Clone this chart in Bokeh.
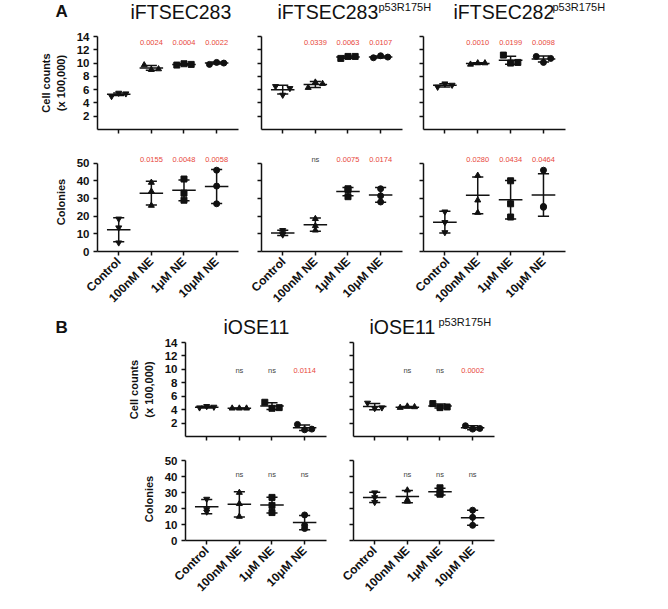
import numpy as np
from bokeh.plotting import figure
from bokeh.layouts import column, row
from bokeh.models import FixedTicker, Range1d, ColumnDataSource
from bokeh.embed import file_html
from bokeh.resources import INLINE
from bokeh.core.properties import value

# ---------------- data ----------------
conditions = ["Control", "100nM NE", "1\u03bcM NE", "10\u03bcM NE"]
cell_ticks = [2, 4, 6, 8, 10, 12, 14]
colony_ticks = [0, 10, 20, 30, 40, 50]

# A - iFTSEC283
a1_cell_pts = [[5.0, 5.5, 5.4], [9.7, 9.0, 9.1], [9.7, 9.9, 9.8], [9.8, 10.1, 10.0]]
a1_cell_mean = [5.3, 9.27, 9.8, 10.0]
a1_cell_sd = [0.2, 0.35, 0.1, 0.15]
a1_cell_p = ["", "0.0024", "0.0004", "0.0022"]
a1_col_pts = [[18.5, 13.5, 5.0], [39.0, 34.0, 26.0], [41.0, 33.0, 29.0], [46.0, 37.0, 27.0]]
a1_col_mean = [12.3, 33.0, 34.6, 36.8]
a1_col_sd = [6.8, 6.7, 5.9, 9.6]
a1_col_p = ["", "0.0155", "0.0048", "0.0058"]

# A - iFTSEC283 p53R175H
a2_cell_pts = [[6.5, 5.2, 6.2], [6.3, 7.1, 6.9], [10.7, 11.0, 11.0], [10.8, 11.1, 10.9]]
a2_cell_mean = [6.0, 6.77, 10.9, 10.93]
a2_cell_sd = [0.66, 0.45, 0.17, 0.15]
a2_cell_p = ["", "0.0339", "0.0063", "0.0107"]
a2_col_pts = [[9.5, 12.0, 10.2], [18.5, 14.5, 12.0], [35.5, 35.0, 31.0], [35.5, 31.5, 28.0]]
a2_col_mean = [10.5, 15.2, 33.9, 32.0]
a2_col_sd = [1.5, 3.8, 2.3, 4.2]
a2_col_p = ["", "ns", "0.0075", "0.0174"]

# A - iFTSEC282 p53R175H
a3_cell_pts = [[6.4, 6.9, 6.7], [9.8, 10.0, 10.0], [11.2, 10.0, 10.1], [11.0, 10.1, 10.7]]
a3_cell_mean = [6.65, 9.93, 10.43, 10.6]
a3_cell_sd = [0.25, 0.1, 0.6, 0.45]
a3_cell_p = ["", "0.0010", "0.0199", "0.0098"]
a3_col_pts = [[22.5, 16.5, 10.8], [43.0, 29.0, 22.0], [40.0, 27.0, 19.5], [46.0, 25.5, 25.0]]
a3_col_mean = [16.6, 31.8, 29.3, 32.0]
a3_col_sd = [6.2, 10.4, 10.9, 12.0]
a3_col_p = ["", "0.0280", "0.0434", "0.0464"]

# B - iOSE11
b1_cell_pts = [[4.3, 4.5, 4.4], [4.2, 4.2, 4.2], [5.1, 4.2, 4.3], [1.8, 1.0, 1.1]]
b1_cell_mean = [4.37, 4.2, 4.53, 1.3]
b1_cell_sd = [0.12, 0.05, 0.5, 0.4]
b1_cell_p = ["", "ns", "ns", "0.0114"]
b1_col_pts = [[26.0, 19.5, 18.0], [30.0, 23.0, 15.0], [27.0, 22.0, 17.5], [16.0, 9.5, 7.5]]
b1_col_mean = [21.2, 22.7, 22.2, 11.2]
b1_col_sd = [4.5, 7.9, 4.9, 4.5]
b1_col_p = ["", "ns", "ns", "ns"]

# B - iOSE11 p53R175H
b2_cell_pts = [[5.0, 4.2, 4.3], [4.3, 4.5, 4.4], [4.9, 4.3, 4.4], [1.6, 1.1, 1.2]]
b2_cell_mean = [4.45, 4.35, 4.55, 1.3]
b2_cell_sd = [0.45, 0.1, 0.3, 0.3]
b2_cell_p = ["", "ns", "ns", "0.0002"]
b2_col_pts = [[30.0, 27.0, 24.0], [31.5, 25.5, 24.5], [33.0, 29.0, 29.5], [19.0, 14.5, 9.5]]
b2_col_mean = [27.0, 27.5, 30.6, 14.3]
b2_col_sd = [3.2, 3.9, 2.1, 4.7]
b2_col_p = ["", "ns", "ns", "ns"]

# panel titles
a_titles = ["iFTSEC283", "iFTSEC283", "iFTSEC282"]
a_supers = ["p53R175H", "p53R175H"]
b_titles = ["iOSE11", "iOSE11"]
b_supers = ["p53R175H"]

# ---------------- style ----------------
FONT = "Liberation Sans"
INK = "#111111"
RED = "#e8473b"
NS_COLOR = "#444444"
MARKERS = ["inverted_triangle", "triangle", "square", "circle"]
CELL_DODGE = [-0.22, 0.0, 0.22]
COL_DODGE = [0.0, 0.0, 0.0]
X0, X1 = -0.65, 3.67


def panel(pts, mean, sd, plabels, ymax, ticks, ytop, label_level, dodge,
          left, right, top, frame_w, frame_h, bottom, show_y, ylabel, show_x):
    p = figure(width=left + frame_w + right, height=top + frame_h + bottom,
               x_range=Range1d(X0, X1), y_range=Range1d(0, ymax),
               output_backend="svg", toolbar_location=None,
               min_border_left=left, min_border_right=right,
               min_border_top=top, min_border_bottom=bottom)
    p.outline_line_color = None
    p.xgrid.visible = False
    p.ygrid.visible = False

    xs = list(range(len(conditions)))
    mw, cw = 0.36, 0.17
    lo = [m - s for m, s in zip(mean, sd)]
    hi = [m + s for m, s in zip(mean, sd)]
    kw = dict(line_color=INK, line_width=1.5)
    p.segment([x - mw for x in xs], mean, [x + mw for x in xs], mean, **kw)
    p.segment(xs, lo, xs, hi, **kw)
    p.segment([x - cw for x in xs], hi, [x + cw for x in xs], hi, **kw)
    p.segment([x - cw for x in xs], lo, [x + cw for x in xs], lo, **kw)

    px, py, pm = [], [], []
    for i, grp in enumerate(pts):
        for j, v in enumerate(grp):
            px.append(i + dodge[j])
            py.append(v)
            pm.append(MARKERS[i])
    src = ColumnDataSource(dict(x=px, y=py, m=pm))
    p.scatter("x", "y", marker="m", source=src, size=6, color=INK)

    idx = [i for i, t in enumerate(plabels) if t]
    txt = [plabels[i] for i in idx]
    colors = [NS_COLOR if t == "ns" else RED for t in txt]
    p.text(x=idx, y=[label_level] * len(idx), text=txt, text_color=colors,
           text_font=value(FONT), text_font_size="7.5px",
           text_align="center", text_baseline="middle")

    ya = p.yaxis[0]
    ya.ticker = FixedTicker(ticks=ticks)
    ya.bounds = (0, ytop)
    ya.axis_line_width = 1.5
    ya.axis_line_color = INK
    ya.major_tick_line_width = 1.5
    ya.major_tick_line_color = INK
    ya.major_tick_out = 4
    ya.major_tick_in = 0
    ya.minor_tick_line_color = None
    if show_y:
        ya.major_label_text_font = FONT
        ya.major_label_text_font_style = "bold"
        ya.major_label_text_font_size = "11.5px"
        ya.major_label_text_color = INK
        ya.major_label_standoff = 4
        ya.axis_label = ylabel
        ya.axis_label_text_font = FONT
        ya.axis_label_text_font_style = "bold"
        ya.axis_label_text_font_size = "11px"
        ya.axis_label_text_color = INK
        ya.axis_label_standoff = 7
    else:
        ya.major_label_text_color = None
        ya.major_label_text_font_size = "1px"
        ya.major_label_standoff = 0

    xa = p.xaxis[0]
    xa.ticker = FixedTicker(ticks=xs)
    xa.major_label_overrides = {i: c for i, c in enumerate(conditions)}
    xa.axis_line_width = 1.5
    xa.axis_line_color = INK
    xa.major_tick_line_width = 1.5
    xa.major_tick_line_color = INK
    xa.major_tick_out = 4
    xa.major_tick_in = 0
    xa.minor_tick_line_color = None
    if show_x:
        xa.major_label_orientation = np.pi / 4
        xa.major_label_text_font = FONT
        xa.major_label_text_font_style = "bold"
        xa.major_label_text_font_size = "12px"
        xa.major_label_text_color = INK
        xa.major_label_standoff = 4
    else:
        xa.major_label_text_color = None
        xa.major_label_text_font_size = "1px"
        xa.major_label_standoff = 0
    return p


def header(width, height, letter, letter_xy, titles, title_xy, supers, super_xy):
    p = figure(width=width, height=height, x_range=Range1d(0, width),
               y_range=Range1d(height, 0), output_backend="svg",
               toolbar_location=None, x_axis_type=None, y_axis_type=None,
               min_border_left=0, min_border_right=0, min_border_top=0, min_border_bottom=0)
    p.outline_line_color = None
    p.text(x=[letter_xy[0]], y=[letter_xy[1]], text=[letter], text_font=value(FONT),
           text_font_size="17px", text_font_style="bold", text_color=INK,
           text_baseline="alphabetic", text_align="left")
    p.text(x=[xy[0] for xy in title_xy], y=[xy[1] for xy in title_xy], text=titles,
           text_font=value(FONT), text_font_size="19.5px", text_color=INK,
           text_baseline="alphabetic", text_align="left")
    p.text(x=[xy[0] for xy in super_xy], y=[xy[1] for xy in super_xy], text=supers,
           text_font=value(FONT), text_font_size="11px", text_color=INK,
           text_baseline="alphabetic", text_align="left")
    return p


CELL_LABEL = "Cell counts\n(x 100,000)"
COL_LABEL = "Colonies"

# ----- Header A
hA = header(640, 30, "A", (55, 11), a_titles, [(130, 11), (277, 11), (453, 11)],
            a_supers, [(378, 6), (552, 6)])

# ----- Row 1: A cell counts
f1 = panel(a1_cell_pts, a1_cell_mean, a1_cell_sd, a1_cell_p, 14, cell_ticks, 14, 13.1, CELL_DODGE,
           97, 10, 6, 141, 93, 10, True, CELL_LABEL, False)
f2 = panel(a2_cell_pts, a2_cell_mean, a2_cell_sd, a2_cell_p, 14, cell_ticks, 14, 13.1, CELL_DODGE,
           13, 10, 6, 141, 93, 10, False, None, False)
f3 = panel(a3_cell_pts, a3_cell_mean, a3_cell_sd, a3_cell_p, 14, cell_ticks, 14, 13.1, CELL_DODGE,
           11, 10, 6, 142, 93, 10, False, None, False)

# ----- Row 2: A colonies
g1 = panel(a1_col_pts, a1_col_mean, a1_col_sd, a1_col_p, 56, colony_ticks, 50, 52, COL_DODGE,
           97, 10, 13, 141, 104, 56, True, COL_LABEL, True)
g2 = panel(a2_col_pts, a2_col_mean, a2_col_sd, a2_col_p, 56, colony_ticks, 50, 52, COL_DODGE,
           13, 10, 13, 141, 104, 56, False, None, True)
g3 = panel(a3_col_pts, a3_col_mean, a3_col_sd, a3_col_p, 56, colony_ticks, 50, 52, COL_DODGE,
           11, 10, 13, 142, 104, 56, False, None, True)

# ----- Header B
hB = header(560, 26, "B", (55, 15), b_titles, [(223, 14), (369, 14)],
            b_supers, [(438, 9)])

# ----- Row 3: B cell counts
h1 = panel(b1_cell_pts, b1_cell_mean, b1_cell_sd, b1_cell_p, 14, cell_ticks, 14, 9.8, CELL_DODGE,
           185, 10, 4, 141, 94, 10, True, CELL_LABEL, False)
h2 = panel(b2_cell_pts, b2_cell_mean, b2_cell_sd, b2_cell_p, 14, cell_ticks, 14, 9.8, CELL_DODGE,
           17, 10, 4, 141, 94, 10, False, None, False)

# ----- Row 4: B colonies
k1 = panel(b1_col_pts, b1_col_mean, b1_col_sd, b1_col_p, 52, colony_ticks, 50, 41.3, COL_DODGE,
           185, 10, 11, 141, 96, 48, True, COL_LABEL, True)
k2 = panel(b2_col_pts, b2_col_mean, b2_col_sd, b2_col_p, 52, colony_ticks, 50, 41.3, COL_DODGE,
           17, 10, 11, 141, 96, 48, False, None, True)

layout = column(hA, row(f1, f2, f3), row(g1, g2, g3), hB, row(h1, h2), row(k1, k2))
open("out.html", "w").write(file_html(layout, INLINE))
